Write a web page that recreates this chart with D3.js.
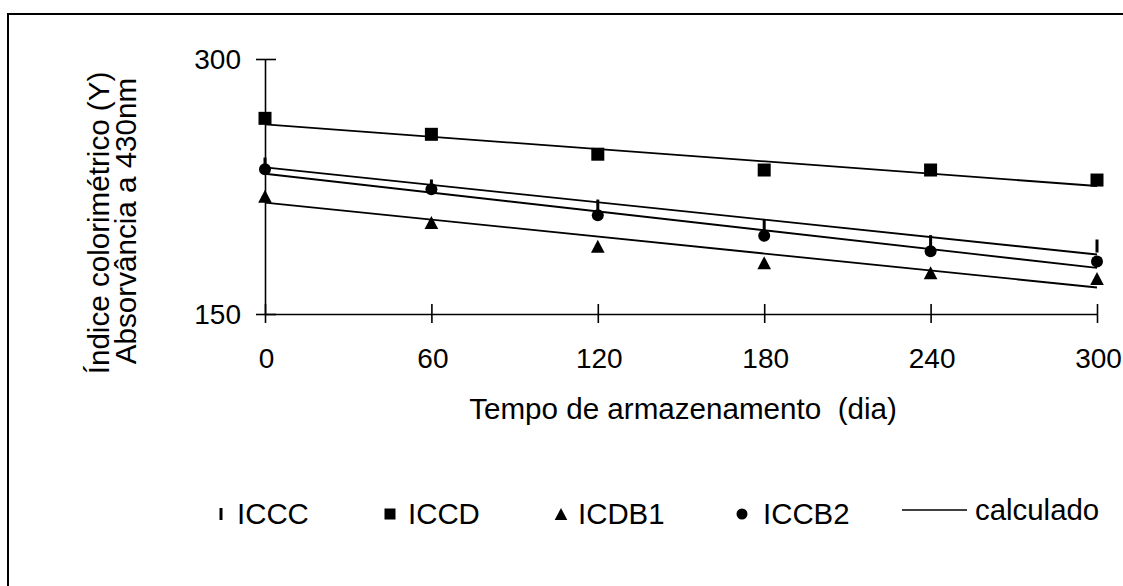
<!DOCTYPE html>
<html>
<head>
<meta charset="utf-8">
<script src="https://cdn.jsdelivr.net/npm/d3@7"></script>
<style>
  html, body { margin: 0; padding: 0; background: #fff; }
  svg { display: block; }
  text { font-family: "Liberation Sans", Arial, sans-serif; fill: #000; white-space: pre; }
</style>
</head>
<body>
<svg id="chart" width="1123" height="586"></svg>
<script>
// ---- data ----
const days = [0, 60, 120, 180, 240, 300];
const iccc  = [238.2, 225.3, 213.5, 201.8, 192.6, 190.0];
const iccd  = [265.1, 255.7, 244.0, 234.7, 234.7, 228.8];
const icdb1 = [219.2, 203.8, 189.8, 180.2, 174.3, 170.9];
const iccb2 = [235.2, 223.4, 208.1, 196.0, 186.9, 180.9];

const calcDays  = [0, 300];
const calcIccc  = [236.2, 185.0];
const calcIccd  = [261.5, 225.3];
const calcIcdb1 = [215.5, 165.6];
const calcIccb2 = [232.5, 177.1];

const xTicks = [0, 60, 120, 180, 240, 300];
const yTicks = [150, 300];
const seriesNames = ["ICCC", "ICCD", "ICDB1", "ICCB2", "calculado"];
const xTitle = "Tempo de armazenamento  (dia)";
const yTitle1 = "Índice colorimétrico (Y)";
const yTitle2 = "Absorvância a 430nm";

// ---- drawing ----
const svg = d3.select("#chart");
const FS = 28;      // tick labels
const FT = 29.6;    // titles
const FL = 29.4;    // legend

// outer frame (extends beyond the visible area on right/bottom)
svg.append("rect")
  .attr("x", 8).attr("y", 14).attr("width", 1300).attr("height", 800)
  .attr("fill", "none").attr("stroke", "#000").attr("stroke-width", 2);

const x = d3.scaleLinear().domain([0, 300]).range([265, 1097]);
const y = d3.scaleLinear().domain([150, 300]).range([314, 59]);

// x axis
const gx = svg.append("g").attr("transform", `translate(0,${y(150)})`)
  .call(d3.axisBottom(x).tickValues(xTicks).tickSizeOuter(0).tickFormat(d3.format("d")));
gx.select(".domain").attr("stroke", "#000").attr("stroke-width", 1.6);
gx.selectAll(".tick line").attr("y1", -10).attr("y2", 9).attr("stroke", "#000").attr("stroke-width", 1.6);
gx.selectAll(".tick text").attr("y", 54).attr("dy", null).attr("dx", 1)
  .style("font-size", FS + "px").style("font-family", "Liberation Sans, Arial, sans-serif");

// y axis
const gy = svg.append("g").attr("transform", `translate(${x(0)},0)`)
  .call(d3.axisLeft(y).tickValues(yTicks).tickSizeOuter(0).tickFormat(d3.format("d")));
gy.select(".domain").attr("stroke", "#000").attr("stroke-width", 1.6);
gy.selectAll(".tick line").attr("x1", -9).attr("x2", 11).attr("stroke", "#000").attr("stroke-width", 1.6);
gy.selectAll(".tick text").attr("x", -24).attr("dy", "0.35em")
  .style("font-size", FS + "px").style("font-family", "Liberation Sans, Arial, sans-serif");

// axis titles
svg.append("text").attr("x", 683).attr("y", 419).attr("text-anchor", "middle")
  .style("font-size", FT + "px").text(xTitle);
svg.append("text").attr("transform", "translate(109,223) rotate(-90)").attr("text-anchor", "middle")
  .style("font-size", FT + "px").text(yTitle1);
svg.append("text").attr("transform", "translate(136,221) rotate(-90)").attr("text-anchor", "middle")
  .style("font-size", FT + "px").text(yTitle2);

// calculated lines
const line = d3.line().x(d => x(d[0])).y(d => y(d[1]));
[calcIccd, calcIccc, calcIccb2, calcIcdb1].forEach(vals => {
  svg.append("path")
    .datum(calcDays.map((d, i) => [d, vals[i]]))
    .attr("d", line).attr("fill", "none").attr("stroke", "#000").attr("stroke-width", 1.8);
});

// markers
function dash(g, cx, cy, h) {
  g.append("rect").attr("x", cx - 1.5).attr("y", cy - h / 2).attr("width", 3).attr("height", h).attr("fill", "#000");
}
function square(g, cx, cy, s) {
  g.append("rect").attr("x", cx - s / 2).attr("y", cy - s / 2).attr("width", s).attr("height", s).attr("fill", "#000");
}
function tri(g, cx, cy, s) {
  const h = s, w = s * 1.05;
  g.append("path").attr("d", `M${cx},${cy - h / 2}L${cx + w / 2},${cy + h / 2}L${cx - w / 2},${cy + h / 2}Z`).attr("fill", "#000");
}
function circ(g, cx, cy, d) {
  g.append("circle").attr("cx", cx).attr("cy", cy).attr("r", d / 2).attr("fill", "#000");
}

const gm = svg.append("g");
days.forEach((d, i) => dash(gm, x(d), y(iccc[i]), 13));
days.forEach((d, i) => square(gm, x(d), y(iccd[i]), 13));
days.forEach((d, i) => tri(gm, x(d), y(icdb1[i]), 13));
days.forEach((d, i) => circ(gm, x(d), y(iccb2[i]), 12));

// legend
const lg = svg.append("g");
const ly = 514;
dash(lg, 221, ly, 12);
lg.append("text").attr("x", 237).attr("y", 524).style("font-size", FL + "px").text(seriesNames[0]);
square(lg, 390, ly, 11);
lg.append("text").attr("x", 408).attr("y", 524).style("font-size", FL + "px").text(seriesNames[1]);
tri(lg, 561, ly, 12);
lg.append("text").attr("x", 578).attr("y", 524).style("font-size", FL + "px").text(seriesNames[2]);
circ(lg, 742, ly, 11);
lg.append("text").attr("x", 763).attr("y", 524).style("font-size", FL + "px").text(seriesNames[3]);
lg.append("line").attr("x1", 902).attr("x2", 967).attr("y1", 510).attr("y2", 510)
  .attr("stroke", "#000").attr("stroke-width", 1.6);
lg.append("text").attr("x", 975).attr("y", 520).style("font-size", FL + "px").text(seriesNames[4]);
</script>
</body>
</html>
